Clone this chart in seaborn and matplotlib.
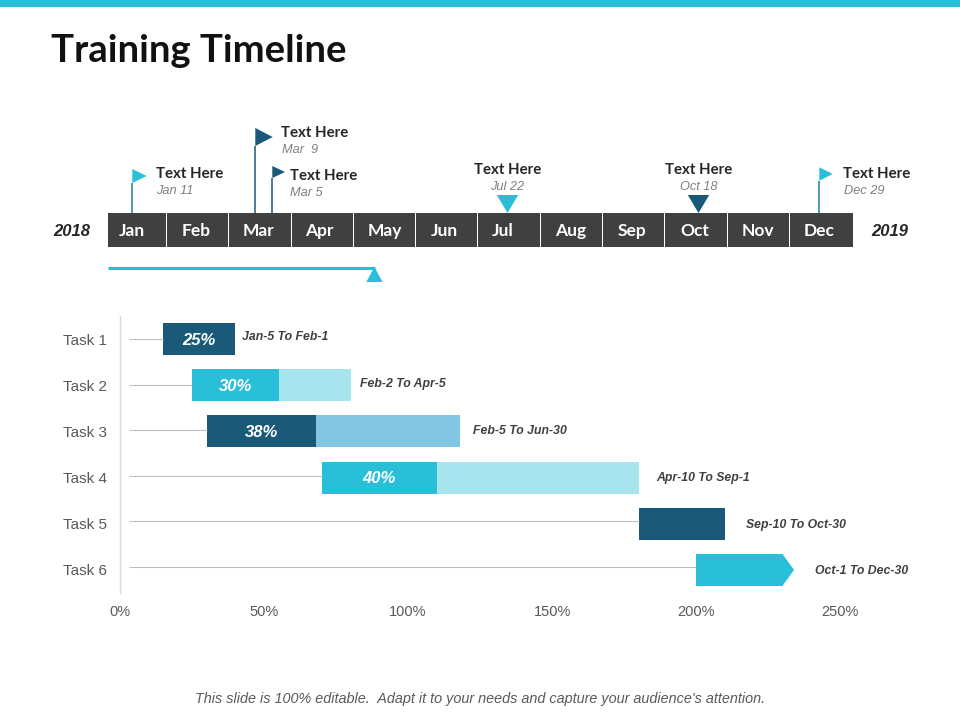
import matplotlib
matplotlib.use("Agg")
import matplotlib.pyplot as plt
from matplotlib.patches import Polygon, Rectangle
import seaborn as sns
import numpy as np

# ---- data ----
tasks = ["Task 1", "Task 2", "Task 3", "Task 4", "Task 5", "Task 6"]
task_start = [15, 25, 30, 70, 180, 200]
task_done = [25, 30, 38, 40, 30, 30]
task_rest = [0, 25, 50, 70, 0, 0]
done_labels = ["25%", "30%", "38%", "40%", "", ""]
range_labels = ["Jan-5 To Feb-1", "Feb-2 To Apr-5", "Feb-5 To Jun-30",
                "Apr-10 To Sep-1", "Sep-10 To Oct-30", "Oct-1 To Dec-30"]
x_ticks = [0, 50, 100, 150, 200, 250]
x_tick_labels = ["0%", "50%", "100%", "150%", "200%", "250%"]
months = ["Jan", "Feb", "Mar", "Apr", "May", "Jun", "Jul", "Aug", "Sep", "Oct", "Nov", "Dec"]
month_span = [59.3, 62, 63, 62, 62, 62, 63, 62, 62, 63, 62, 63.4]
years = ["2018", "2019"]
event_dates = ["Jan 11", "Mar  9", "Mar 5", "Jul 22", "Oct 18", "Dec 29"]
event_title = "Text Here"

# ---- style ----
CYAN, NAVY, PALE, SKY, BAR = "#29BFD9", "#1A5A78", "#A8E4EE", "#82C6E4", "#404040"
done_colors = [NAVY, CYAN, NAVY, CYAN, NAVY, CYAN]
rest_colors = [PALE, PALE, SKY, PALE, PALE, PALE]
line_rows = [0, 1, 1.98, 2.955, 3.93, 4.935]
ARIAL, GEO = "Liberation Sans", "Lato"
W, H = 960, 720

sns.set_theme(style="white")
fig = plt.figure(figsize=(W / 100, H / 100), dpi=100, facecolor="white")


def box(x0, y0, x1, y1):
    return [x0 / W, 1 - y1 / H, (x1 - x0) / W, (y1 - y0) / H]


# ---- Gantt chart ----
ax = fig.add_axes(box(120.1, 316, 840.1, 593))
n = 0
for values, lefts, colors in (
    (task_rest, np.add(task_start, task_done), rest_colors),
    (task_done, task_start, done_colors),
):
    sns.barplot(x=values, y=tasks, hue=tasks, palette=colors, legend=False,
                orient="h", width=0.69, dodge=False, saturation=1, ax=ax)
    for patch, left in zip(ax.patches[n:], lefts):
        patch.set_x(left)
        patch.set_linewidth(0)
    n = len(ax.patches)

ax.hlines(line_rows, 3, task_start, color="#BFBFBF", lw=0.8, zorder=1)
arrow_end = task_start[5] + task_done[5]
half = 0.69 / 2
ax.add_patch(Polygon([(arrow_end, 5 - half), (arrow_end + 4, 5), (arrow_end, 5 + half)],
                     closed=True, fc=CYAN, lw=0))
for i, label in enumerate(done_labels):
    ax.text(task_start[i] + task_done[i] / 2, i + 0.02, label, color="white", ha="center",
            va="center", family=ARIAL, weight="bold", style="italic", fontsize=12)

ax.set_xlim(0, 250)
ax.set_ylim(5.5, -0.5)
ax.set_xticks(x_ticks, x_tick_labels)
ax.set_xlabel("")
ax.set_ylabel("")
ax.tick_params(axis="x", length=0, pad=8.5, labelsize=10.5, labelcolor="#595959")
ax.tick_params(axis="y", length=0, pad=9.5, labelsize=11, labelcolor="#595959")
for lab in ax.get_xticklabels() + ax.get_yticklabels():
    lab.set_family(ARIAL)
sns.despine(ax=ax, top=True, right=True, bottom=True)
ax.spines["left"].set_color("#D9D9D9")
ax.spines["left"].set_linewidth(1)
ax.patch.set_alpha(0)

# ---- month strip ----
strip = fig.add_axes(box(108, 213, 108 + sum(month_span), 246.7))
sns.barplot(x=months, y=[1] * 12, color=BAR, saturation=1, ax=strip)
for patch, left, span in zip(strip.patches, np.cumsum([0] + month_span), month_span):
    patch.set_x(left)
    patch.set_width(span - 1)
    patch.set_linewidth(0)
strip.set_xlim(0, sum(month_span))
strip.set_ylim(0, 1)
strip.axis("off")

# ---- overlay in pixel coordinates ----
ov = fig.add_axes([0, 0, 1, 1], zorder=5)
ov.set_xlim(0, W)
ov.set_ylim(H, 0)
ov.axis("off")
ov.add_patch(Rectangle((0, 0), W, 7, fc=CYAN, lw=0))
ov.text(51, 51, "Training Timeline", family=GEO, weight="bold", fontsize=27.5,
        color="#111111", ha="left", va="center")

for name, cx in zip(months, [132, 196, 259, 319, 385, 444, 503, 571, 632, 695, 758, 819]):
    ov.text(cx, 231, name, color="white", family=GEO, weight="bold", fontsize=12.5,
            ha="center", va="center")
for name, cx in zip(years, [72, 890]):
    ov.text(cx, 231, name, color="#262626", family=ARIAL, weight="bold", style="italic",
            fontsize=12, ha="center", va="center")

# flags: pole x, flag top, flag bottom, tip x, colour
flags = [(132.3, 169, 183, 146.7, CYAN), (255.3, 128, 146, 272.7, NAVY),
         (272.3, 166, 178, 285, NAVY), (819.3, 167.3, 180.7, 832.7, CYAN)]
for px, top, bot, tip, col in flags:
    ov.plot([px, px], [bot, 213], color=NAVY if col == NAVY else "#1C7F9C", lw=1.1,
            solid_capstyle="butt")
    ov.add_patch(Polygon([(px, top), (tip, (top + bot) / 2), (px, bot)], closed=True, fc=col, lw=0))

# downward markers: centre x, colour
for cx, col in [(507.5, CYAN), (698.5, NAVY)]:
    ov.add_patch(Polygon([(cx - 10.7, 195), (cx + 10.7, 195), (cx, 213)], closed=True, fc=col, lw=0))

# text positions: title x,y, date x,y, alignment
places = [(156, 174, 156, 191, "left"), (281, 133, 282, 150, "left"),
          (290, 176, 290, 193.5, "left"), (508, 170, 507, 187.5, "center"),
          (699, 170, 699, 187.5, "center"), (843, 174, 844, 190.5, "left")]
for date, (tx, ty, dx, dy, ha) in zip(event_dates, places):
    ov.text(tx, ty, event_title, family=GEO, weight="bold", fontsize=10.8, color="#262626",
            ha=ha, va="center")
    ov.text(dx, dy, date, family=ARIAL, style="italic", fontsize=9.2, color="#7F7F7F",
            ha=ha, va="center")

# progress line
ov.plot([108, 375], [268.4, 268.4], color=CYAN, lw=2.2, solid_capstyle="butt")
ov.add_patch(Polygon([(366.3, 282), (374.5, 267), (382.5, 282)], closed=True, fc=CYAN, lw=0))

# range labels
for text, (lx, ly) in zip(range_labels, [(242, 336.5), (360, 383.5), (473, 430.5),
                                         (656, 478.5), (746, 525), (815, 571.5)]):
    ov.text(lx, ly, text, family=ARIAL, weight="bold", style="italic", fontsize=8.8,
            color="#404040", ha="left", va="center")

ov.text(480, 699.5, "This slide is 100% editable.  Adapt it to your needs and capture your audience's attention.",
        family=ARIAL, style="italic", fontsize=10.4, color="#595959", ha="center", va="center")

fig.savefig("out.png", dpi=100)
